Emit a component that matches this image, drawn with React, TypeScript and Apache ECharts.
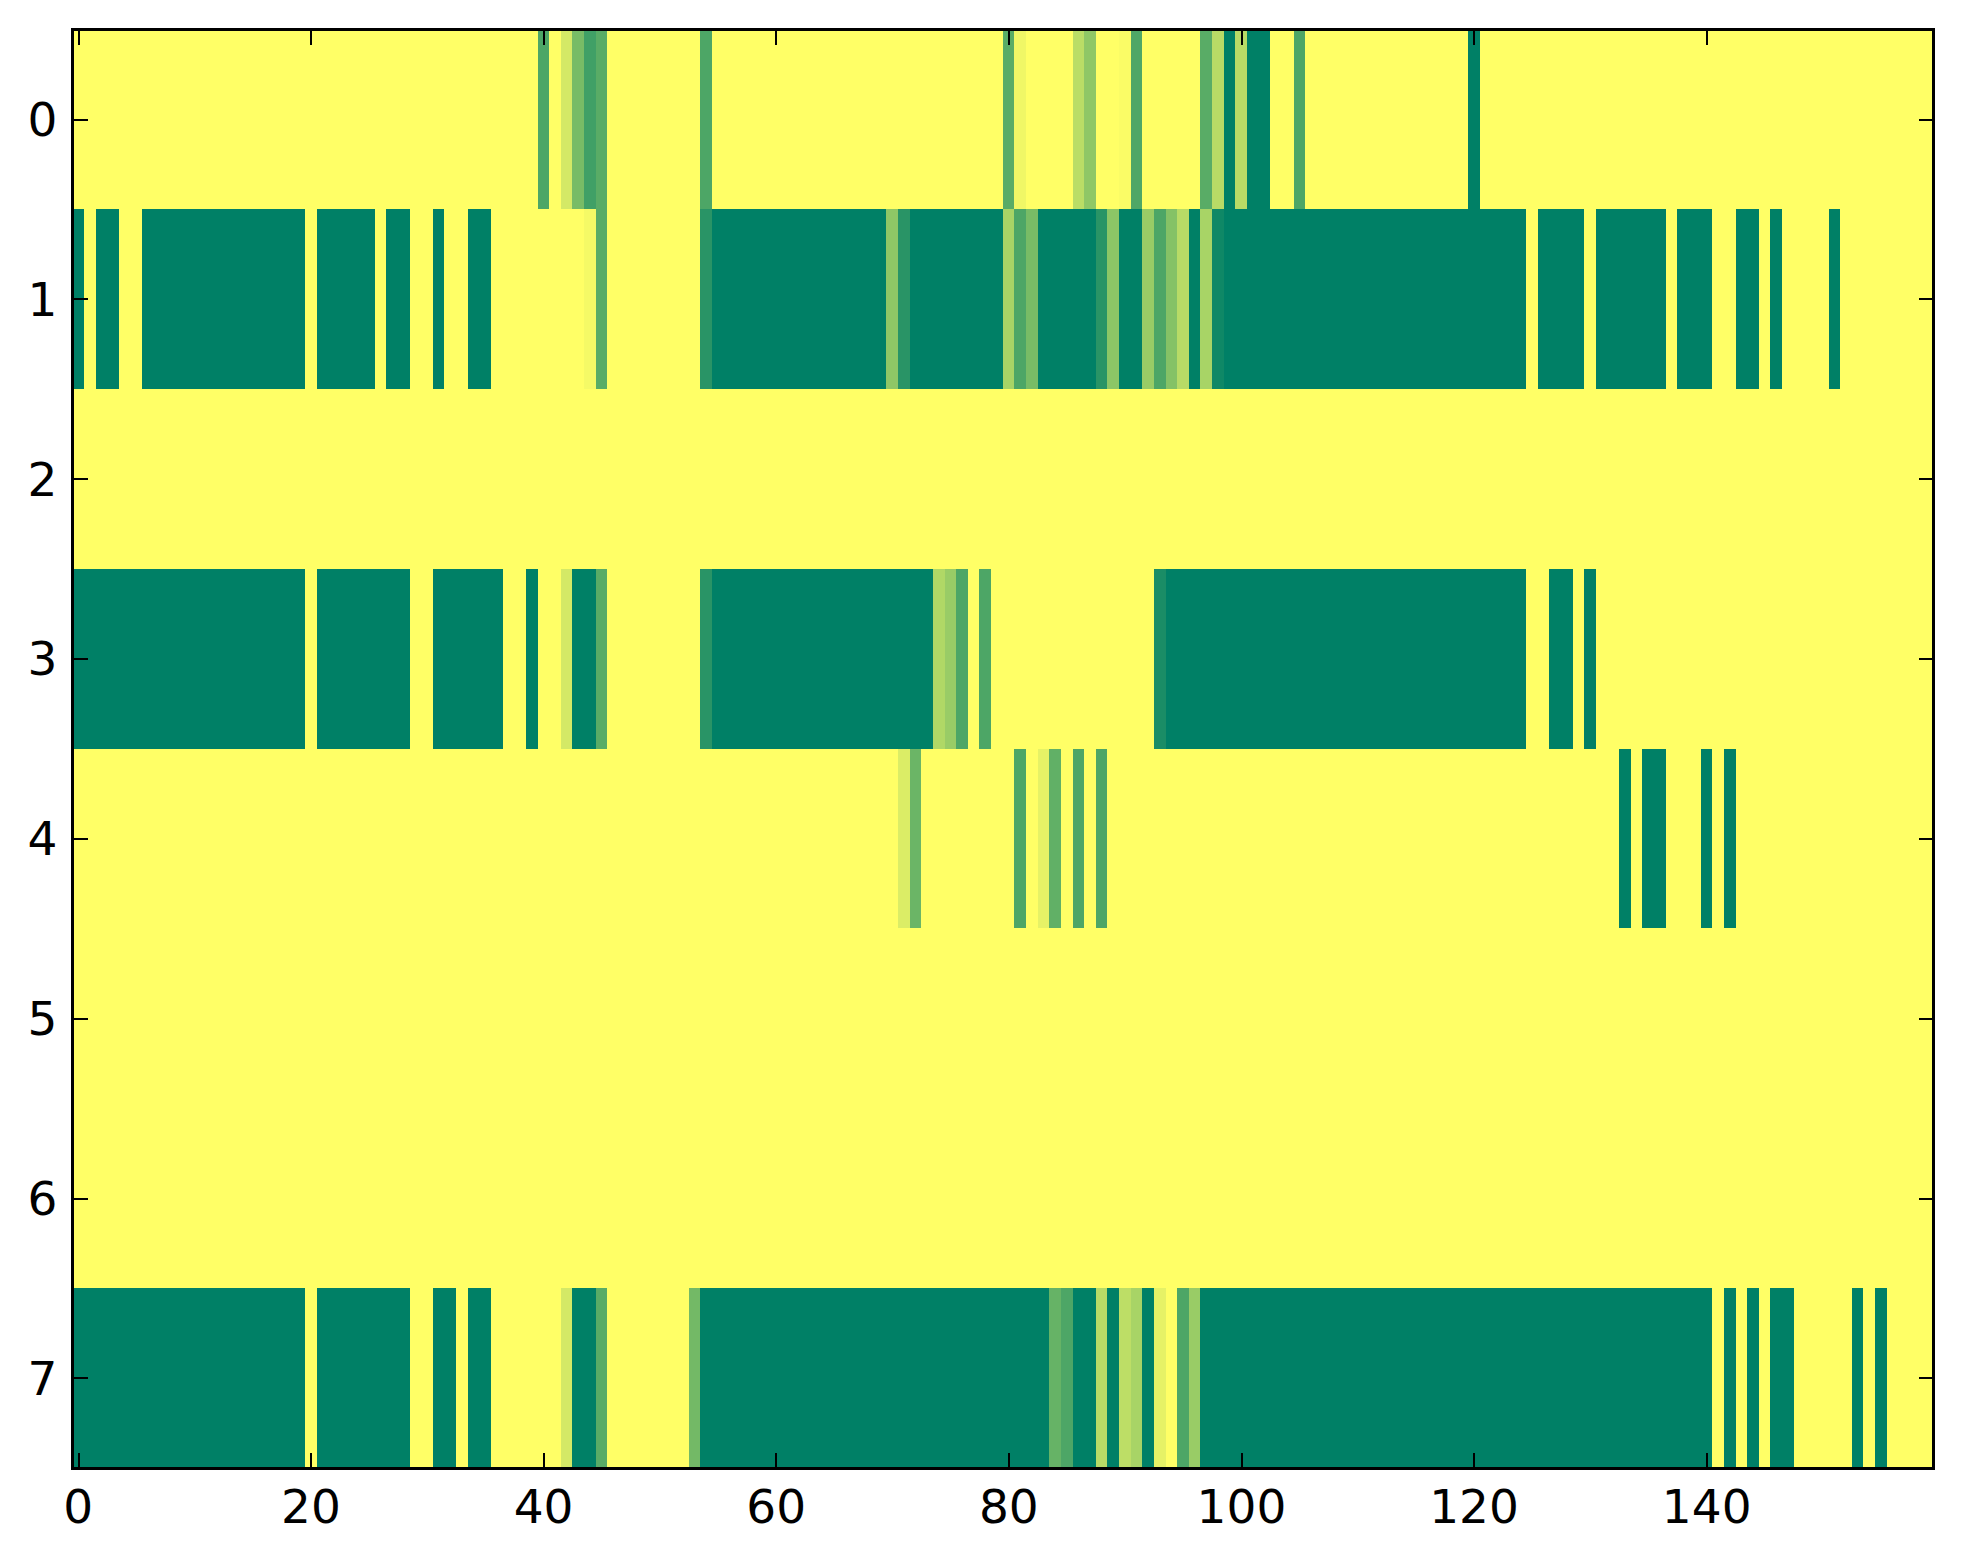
import React, { useEffect, useRef } from "react";
import * as echarts from "echarts";

// Column categories 0..159 and row categories 0..7
const xCategories: string[] = Array.from({ length: 160 }, (_, i) => String(i));
const yCategories: string[] = ["0", "1", "2", "3", "4", "5", "6", "7"];
const xTickStep = 20;

// Cell values (0 = yellow, 1 = dark green), 160 per row
const row0: number[] = [
  0, 0, 0, 0, 0, 0, 0, 0, 0, 0, 0, 0, 0, 0, 0, 0,
  0, 0, 0, 0, 0, 0, 0, 0, 0, 0, 0, 0, 0, 0, 0, 0,
  0, 0, 0, 0, 0, 0, 0, 0, 0.7, 0, 0.17, 0.53, 0.75, 0.65, 0, 0,
  0, 0, 0, 0, 0, 0, 0.7, 0, 0, 0, 0, 0, 0, 0, 0, 0,
  0, 0, 0, 0, 0, 0, 0, 0, 0, 0, 0, 0, 0, 0, 0, 0,
  0.65, 0.06, 0, 0, 0, 0, 0.27, 0.44, 0, 0, 0.02, 0.69, 0, 0, 0, 0,
  0, 0.65, 0.28, 1, 0.28, 1, 1, 0, 0, 0.7, 0, 0, 0, 0, 0, 0,
  0, 0, 0, 0, 0, 0, 0, 0, 1, 0, 0, 0, 0, 0, 0, 0,
  0, 0, 0, 0, 0, 0, 0, 0, 0, 0, 0, 0, 0, 0, 0, 0,
  0, 0, 0, 0, 0, 0, 0, 0, 0, 0, 0, 0, 0, 0, 0, 0,
];
const row1: number[] = [
  1, 0, 1, 1, 0, 0, 1, 1, 1, 1, 1, 1, 1, 1, 1, 1,
  1, 1, 1, 1, 0, 1, 1, 1, 1, 1, 0, 1, 1, 0, 0, 1,
  0, 0, 1, 1, 0, 0, 0, 0, 0, 0, 0, 0, 0.04, 0.65, 0, 0,
  0, 0, 0, 0, 0, 0, 0.84, 1, 1, 1, 1, 1, 1, 1, 1, 1,
  1, 1, 1, 1, 1, 1, 0.44, 0.84, 1, 1, 1, 1, 1, 1, 1, 1,
  0.34, 0.7, 0.53, 1, 1, 1, 1, 1, 0.84, 0.45, 1, 1, 0.4, 0.7, 0.48, 0.28,
  1, 0.34, 0.94, 1, 1, 1, 1, 1, 1, 1, 1, 1, 1, 1, 1, 1,
  1, 1, 1, 1, 1, 1, 1, 1, 1, 1, 1, 1, 1, 0, 1, 1,
  1, 1, 0, 1, 1, 1, 1, 1, 1, 0, 1, 1, 1, 0, 0, 1,
  1, 0, 1, 0, 0, 0, 0, 1, 0, 0, 0, 0, 0, 0, 0, 0,
];
const row2: number[] = [
  0, 0, 0, 0, 0, 0, 0, 0, 0, 0, 0, 0, 0, 0, 0, 0,
  0, 0, 0, 0, 0, 0, 0, 0, 0, 0, 0, 0, 0, 0, 0, 0,
  0, 0, 0, 0, 0, 0, 0, 0, 0, 0, 0, 0, 0, 0, 0, 0,
  0, 0, 0, 0, 0, 0, 0, 0, 0, 0, 0, 0, 0, 0, 0, 0,
  0, 0, 0, 0, 0, 0, 0, 0, 0, 0, 0, 0, 0, 0, 0, 0,
  0, 0, 0, 0, 0, 0, 0, 0, 0, 0, 0, 0, 0, 0, 0, 0,
  0, 0, 0, 0, 0, 0, 0, 0, 0, 0, 0, 0, 0, 0, 0, 0,
  0, 0, 0, 0, 0, 0, 0, 0, 0, 0, 0, 0, 0, 0, 0, 0,
  0, 0, 0, 0, 0, 0, 0, 0, 0, 0, 0, 0, 0, 0, 0, 0,
  0, 0, 0, 0, 0, 0, 0, 0, 0, 0, 0, 0, 0, 0, 0, 0,
];
const row3: number[] = [
  1, 1, 1, 1, 1, 1, 1, 1, 1, 1, 1, 1, 1, 1, 1, 1,
  1, 1, 1, 1, 0, 1, 1, 1, 1, 1, 1, 1, 1, 0, 0, 1,
  1, 1, 1, 1, 1, 0, 0, 1, 0, 0, 0.17, 1, 1, 0.65, 0, 0,
  0, 0, 0, 0, 0, 0, 0.84, 1, 1, 1, 1, 1, 1, 1, 1, 1,
  1, 1, 1, 1, 1, 1, 1, 1, 1, 1, 0.31, 0.4, 0.7, 0, 0.7, 0,
  0, 0, 0, 0, 0, 0, 0, 0, 0, 0, 0, 0, 0, 0.9, 1, 1,
  1, 1, 1, 1, 1, 1, 1, 1, 1, 1, 1, 1, 1, 1, 1, 1,
  1, 1, 1, 1, 1, 1, 1, 1, 1, 1, 1, 1, 1, 0, 0, 1,
  1, 0, 1, 0, 0, 0, 0, 0, 0, 0, 0, 0, 0, 0, 0, 0,
  0, 0, 0, 0, 0, 0, 0, 0, 0, 0, 0, 0, 0, 0, 0, 0,
];
const row4: number[] = [
  0, 0, 0, 0, 0, 0, 0, 0, 0, 0, 0, 0, 0, 0, 0, 0,
  0, 0, 0, 0, 0, 0, 0, 0, 0, 0, 0, 0, 0, 0, 0, 0,
  0, 0, 0, 0, 0, 0, 0, 0, 0, 0, 0, 0, 0, 0, 0, 0,
  0, 0, 0, 0, 0, 0, 0, 0, 0, 0, 0, 0, 0, 0, 0, 0,
  0, 0, 0, 0, 0, 0, 0, 0.14, 0.58, 0, 0, 0, 0, 0, 0, 0,
  0, 0.7, 0, 0.1, 0.62, 0, 0.7, 0, 0.7, 0, 0, 0, 0, 0, 0, 0,
  0, 0, 0, 0, 0, 0, 0, 0, 0, 0, 0, 0, 0, 0, 0, 0,
  0, 0, 0, 0, 0, 0, 0, 0, 0, 0, 0, 0, 0, 0, 0, 0,
  0, 0, 0, 0, 0, 1, 0, 1, 1, 0, 0, 0, 1, 0, 1, 0,
  0, 0, 0, 0, 0, 0, 0, 0, 0, 0, 0, 0, 0, 0, 0, 0,
];
const row5: number[] = [
  0, 0, 0, 0, 0, 0, 0, 0, 0, 0, 0, 0, 0, 0, 0, 0,
  0, 0, 0, 0, 0, 0, 0, 0, 0, 0, 0, 0, 0, 0, 0, 0,
  0, 0, 0, 0, 0, 0, 0, 0, 0, 0, 0, 0, 0, 0, 0, 0,
  0, 0, 0, 0, 0, 0, 0, 0, 0, 0, 0, 0, 0, 0, 0, 0,
  0, 0, 0, 0, 0, 0, 0, 0, 0, 0, 0, 0, 0, 0, 0, 0,
  0, 0, 0, 0, 0, 0, 0, 0, 0, 0, 0, 0, 0, 0, 0, 0,
  0, 0, 0, 0, 0, 0, 0, 0, 0, 0, 0, 0, 0, 0, 0, 0,
  0, 0, 0, 0, 0, 0, 0, 0, 0, 0, 0, 0, 0, 0, 0, 0,
  0, 0, 0, 0, 0, 0, 0, 0, 0, 0, 0, 0, 0, 0, 0, 0,
  0, 0, 0, 0, 0, 0, 0, 0, 0, 0, 0, 0, 0, 0, 0, 0,
];
const row6: number[] = [
  0, 0, 0, 0, 0, 0, 0, 0, 0, 0, 0, 0, 0, 0, 0, 0,
  0, 0, 0, 0, 0, 0, 0, 0, 0, 0, 0, 0, 0, 0, 0, 0,
  0, 0, 0, 0, 0, 0, 0, 0, 0, 0, 0, 0, 0, 0, 0, 0,
  0, 0, 0, 0, 0, 0, 0, 0, 0, 0, 0, 0, 0, 0, 0, 0,
  0, 0, 0, 0, 0, 0, 0, 0, 0, 0, 0, 0, 0, 0, 0, 0,
  0, 0, 0, 0, 0, 0, 0, 0, 0, 0, 0, 0, 0, 0, 0, 0,
  0, 0, 0, 0, 0, 0, 0, 0, 0, 0, 0, 0, 0, 0, 0, 0,
  0, 0, 0, 0, 0, 0, 0, 0, 0, 0, 0, 0, 0, 0, 0, 0,
  0, 0, 0, 0, 0, 0, 0, 0, 0, 0, 0, 0, 0, 0, 0, 0,
  0, 0, 0, 0, 0, 0, 0, 0, 0, 0, 0, 0, 0, 0, 0, 0,
];
const row7: number[] = [
  1, 1, 1, 1, 1, 1, 1, 1, 1, 1, 1, 1, 1, 1, 1, 1,
  1, 1, 1, 1, 0, 1, 1, 1, 1, 1, 1, 1, 1, 0, 0, 1,
  1, 0, 1, 1, 0, 0, 0, 0, 0, 0, 0.17, 1, 1, 0.65, 0, 0,
  0, 0, 0, 0, 0, 0.55, 1, 1, 1, 1, 1, 1, 1, 1, 1, 1,
  1, 1, 1, 1, 1, 1, 1, 1, 1, 1, 1, 1, 1, 1, 1, 1,
  1, 1, 1, 1, 0.6, 0.7, 1, 1, 0.28, 1, 0.26, 0.34, 1, 0.1, 0, 0.7,
  0.4, 1, 1, 1, 1, 1, 1, 1, 1, 1, 1, 1, 1, 1, 1, 1,
  1, 1, 1, 1, 1, 1, 1, 1, 1, 1, 1, 1, 1, 1, 1, 1,
  1, 1, 1, 1, 1, 1, 1, 1, 1, 1, 1, 1, 1, 0, 1, 0,
  1, 0, 1, 1, 0, 0, 0, 0, 0, 1, 0, 1, 0, 0, 0, 0,
];
const rows: number[][] = [row0, row1, row2, row3, row4, row5, row6, row7];

const FONT = "DejaVu Sans";

export default function App() {
  const ref = useRef<HTMLDivElement>(null);

  useEffect(() => {
    if (!ref.current) return;
    const chart = echarts.init(ref.current, undefined, { renderer: "svg" });

    const data: [number, number, number][] = [];
    rows.forEach((r, y) => r.forEach((v, x) => data.push([x, y, v])));

    const xTickInterval = (idx: number) => idx % xTickStep === 0;
    const axisLine = { show: true, onZero: false, lineStyle: { color: "#000", width: 3 } };
    const tickStyle = { color: "#000", width: 2 };

    chart.setOption({
      animation: false,
      backgroundColor: "#ffffff",
      grid: { left: 72.5, right: 29.5, top: 29.5, bottom: 96, containLabel: false },
      xAxis: [
        {
          type: "category",
          data: xCategories,
          position: "bottom",
          z: 10,
          axisLine,
          axisTick: { show: true, inside: true, length: 15, alignWithLabel: true, interval: xTickInterval, lineStyle: tickStyle },
          axisLabel: { show: true, interval: xTickInterval, margin: 15, fontFamily: FONT, fontSize: 47, lineHeight: 47, color: "#000" },
          splitLine: { show: false },
        },
        {
          type: "category",
          data: xCategories,
          position: "top",
          z: 10,
          axisLine,
          axisTick: { show: true, inside: true, length: 15, alignWithLabel: true, interval: xTickInterval, lineStyle: tickStyle },
          axisLabel: { show: false },
          splitLine: { show: false },
        },
      ],
      yAxis: [
        {
          type: "category",
          data: yCategories,
          inverse: true,
          position: "left",
          z: 10,
          axisLine,
          axisTick: { show: true, inside: true, length: 15, alignWithLabel: true, interval: 0, lineStyle: tickStyle },
          axisLabel: { show: true, interval: 0, margin: 15, fontFamily: FONT, fontSize: 47, lineHeight: 47, color: "#000" },
          splitLine: { show: false },
        },
        {
          type: "category",
          data: yCategories,
          inverse: true,
          position: "right",
          z: 10,
          axisLine,
          axisTick: { show: true, inside: true, length: 15, alignWithLabel: true, interval: 0, lineStyle: tickStyle },
          axisLabel: { show: false },
          splitLine: { show: false },
        },
      ],
      visualMap: {
        type: "continuous",
        show: false,
        min: 0,
        max: 1,
        dimension: 2,
        seriesIndex: 0,
        inRange: { color: ["#ffff66", "#008066"] },
      },
      series: [
        {
          type: "heatmap",
          xAxisIndex: 0,
          yAxisIndex: 0,
          data,
          itemStyle: { borderWidth: 0 },
          emphasis: { disabled: true },
          z: 1,
        },
      ],
    });

    return () => chart.dispose();
  }, []);

  return (
    <>
      <style>{"#heatmap-box svg path { shape-rendering: crispEdges; }"}</style>
      <div
        id="heatmap-box"
        ref={ref}
        style={{ position: "absolute", left: 0, top: 0, width: 1963, height: 1564, background: "#fff" }}
      />
    </>
  );
}
